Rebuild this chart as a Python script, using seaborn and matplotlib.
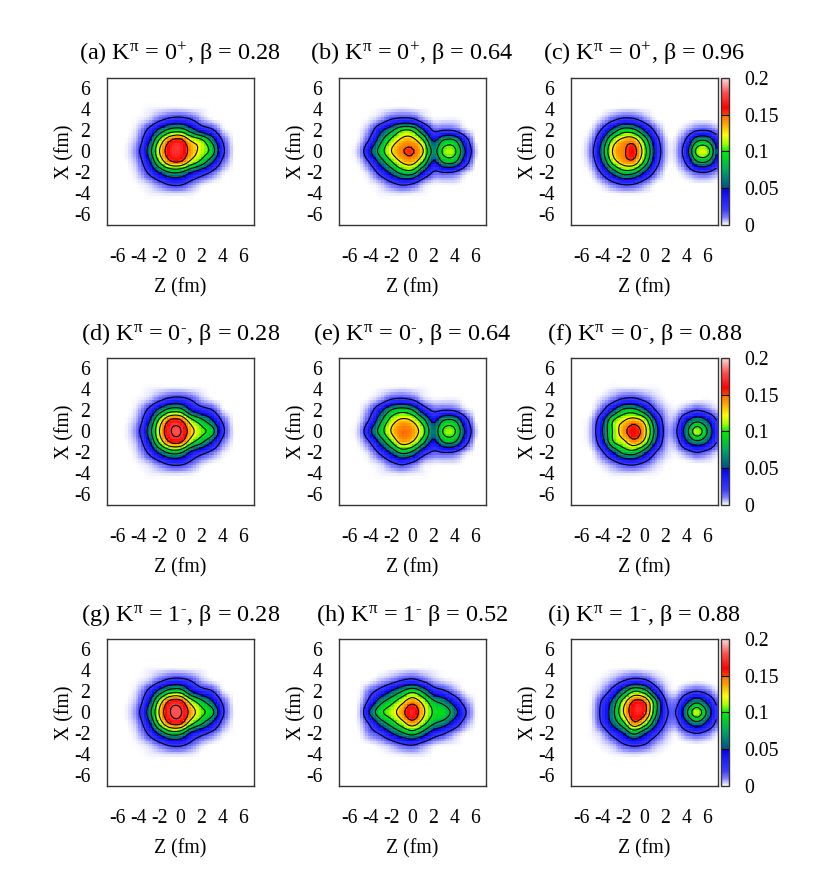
import numpy as np
import pandas as pd
import seaborn as sns
import matplotlib
matplotlib.use('Agg')
from matplotlib import pyplot as plt
from matplotlib.colors import LinearSegmentedColormap

# density, in units of 1e-3 fm^-3
# rows are X = 4 ... -4, columns are Z = -6 ... 7
z_grid = [-6, -5, -4, -3, -2, -1, 0, 1, 2, 3, 4, 5, 6, 7]
x_grid = [4, 3, 2, 1, 0, -1, -2, -3, -4]

panel_a = [
    [0, 0, 0, 1, 2, 3, 3, 2, 1, 0, 0, 0, 0, 0],
    [0, 0, 1, 5, 16, 27, 30, 22, 8, 2, 0, 0, 0, 0],
    [0, 0, 5, 26, 58, 85, 90, 65, 38, 25, 4, 0, 0, 0],
    [0, 1, 10, 46, 105, 150, 160, 125, 108, 70, 20, 1, 0, 0],
    [0, 2, 16, 60, 125, 165, 170, 140, 115, 90, 28, 2, 0, 0],
    [0, 1, 10, 44, 102, 145, 150, 118, 92, 55, 16, 1, 0, 0],
    [0, 0, 5, 24, 52, 75, 75, 52, 34, 17, 3, 0, 0, 0],
    [0, 0, 1, 5, 15, 27, 28, 15, 5, 1, 0, 0, 0, 0],
    [0, 0, 0, 1, 2, 3, 3, 2, 0, 0, 0, 0, 0, 0],
]
panel_b = [
    [0, 0, 0, 1, 2, 3, 2, 1, 0, 0, 0, 0, 0, 0],
    [0, 0, 2, 9, 22, 28, 26, 10, 2, 2, 2, 0, 0, 0],
    [0, 1, 12, 44, 70, 100, 98, 55, 18, 20, 18, 5, 0, 0],
    [0, 3, 26, 70, 108, 132, 135, 105, 48, 80, 80, 35, 2, 0],
    [0, 8, 48, 88, 125, 148, 152, 128, 68, 106, 106, 52, 6, 0],
    [0, 3, 24, 62, 98, 128, 135, 100, 46, 80, 80, 35, 2, 0],
    [0, 0, 7, 30, 58, 85, 88, 48, 18, 20, 18, 5, 0, 0],
    [0, 0, 1, 6, 18, 28, 24, 8, 2, 2, 2, 0, 0, 0],
    [0, 0, 0, 1, 2, 3, 2, 1, 0, 0, 0, 0, 0, 0],
]
panel_c = [
    [0, 0, 0, 1, 2, 2, 1, 0, 0, 0, 0, 0, 0, 0],
    [0, 0, 5, 17, 27, 25, 12, 2, 0, 0, 0, 1, 1, 0],
    [0, 3, 25, 60, 88, 83, 50, 17, 1, 0, 6, 18, 19, 8],
    [0, 10, 52, 110, 136, 140, 95, 37, 5, 3, 24, 72, 74, 32],
    [0, 15, 65, 128, 146, 158, 112, 46, 7, 5, 36, 108, 112, 45],
    [0, 10, 52, 110, 138, 142, 95, 37, 5, 3, 24, 72, 74, 32],
    [0, 3, 25, 60, 88, 83, 50, 17, 1, 0, 6, 18, 19, 8],
    [0, 0, 5, 17, 27, 25, 12, 2, 0, 0, 0, 1, 1, 0],
    [0, 0, 0, 1, 2, 2, 1, 0, 0, 0, 0, 0, 0, 0],
]
panel_d = [
    [0, 0, 0, 1, 2, 3, 3, 2, 1, 0, 0, 0, 0, 0],
    [0, 0, 1, 5, 16, 28, 30, 20, 7, 2, 0, 0, 0, 0],
    [0, 0, 5, 26, 60, 88, 88, 50, 32, 22, 3, 0, 0, 0],
    [0, 1, 10, 46, 108, 155, 156, 112, 85, 55, 18, 1, 0, 0],
    [0, 2, 16, 60, 125, 172, 177, 135, 108, 88, 28, 2, 0, 0],
    [0, 1, 10, 45, 106, 152, 155, 110, 82, 50, 14, 1, 0, 0],
    [0, 0, 5, 24, 56, 82, 80, 46, 28, 15, 3, 0, 0, 0],
    [0, 0, 1, 5, 15, 27, 28, 16, 5, 1, 0, 0, 0, 0],
    [0, 0, 0, 1, 2, 3, 3, 2, 0, 0, 0, 0, 0, 0],
]
panel_e = [
    [0, 0, 0, 1, 2, 3, 2, 1, 0, 0, 0, 0, 0, 0],
    [0, 0, 2, 9, 22, 26, 20, 6, 2, 2, 2, 0, 0, 0],
    [0, 1, 13, 44, 78, 90, 78, 38, 17, 20, 18, 5, 0, 0],
    [0, 3, 26, 72, 112, 132, 124, 88, 45, 78, 78, 33, 2, 0],
    [0, 7, 47, 88, 127, 149, 142, 110, 60, 104, 104, 50, 6, 0],
    [0, 3, 22, 60, 100, 136, 125, 85, 43, 78, 78, 33, 2, 0],
    [0, 0, 6, 27, 55, 82, 70, 33, 17, 20, 18, 5, 0, 0],
    [0, 0, 1, 5, 17, 27, 18, 5, 2, 2, 2, 0, 0, 0],
    [0, 0, 0, 1, 2, 3, 2, 1, 0, 0, 0, 0, 0, 0],
]
panel_f = [
    [0, 0, 0, 2, 3, 3, 2, 1, 0, 0, 0, 0, 0, 0],
    [0, 0, 4, 13, 25, 27, 17, 6, 1, 0, 0, 1, 1, 0],
    [0, 1, 17, 50, 82, 85, 60, 22, 5, 2, 11, 20, 13, 3],
    [0, 6, 42, 100, 124, 138, 118, 55, 10, 10, 46, 70, 52, 17],
    [0, 8, 50, 102, 140, 162, 135, 70, 13, 17, 64, 115, 75, 22],
    [0, 6, 40, 98, 118, 142, 118, 55, 10, 10, 46, 70, 52, 17],
    [0, 1, 17, 50, 82, 88, 60, 22, 5, 2, 11, 20, 13, 3],
    [0, 0, 4, 13, 25, 28, 18, 6, 1, 0, 0, 1, 1, 0],
    [0, 0, 0, 2, 3, 3, 2, 1, 0, 0, 0, 0, 0, 0],
]
panel_g = [
    [0, 0, 0, 1, 2, 3, 3, 2, 1, 0, 0, 0, 0, 0],
    [0, 0, 1, 5, 16, 28, 30, 20, 7, 2, 0, 0, 0, 0],
    [0, 0, 5, 26, 60, 88, 90, 52, 32, 22, 3, 0, 0, 0],
    [0, 1, 10, 46, 110, 158, 160, 116, 85, 55, 18, 1, 0, 0],
    [0, 2, 16, 62, 128, 174, 178, 140, 108, 85, 26, 2, 0, 0],
    [0, 1, 10, 45, 108, 154, 158, 112, 82, 50, 14, 1, 0, 0],
    [0, 0, 5, 24, 56, 84, 82, 46, 28, 15, 3, 0, 0, 0],
    [0, 0, 1, 5, 15, 27, 28, 16, 5, 1, 0, 0, 0, 0],
    [0, 0, 0, 1, 2, 3, 3, 2, 0, 0, 0, 0, 0, 0],
]
panel_h = [
    [0, 0, 0, 0, 1, 2, 3, 2, 1, 0, 0, 0, 0, 0],
    [0, 0, 1, 6, 12, 22, 28, 18, 7, 3, 1, 0, 0, 0],
    [0, 1, 14, 30, 52, 75, 95, 72, 35, 24, 10, 1, 0, 0],
    [0, 3, 30, 68, 92, 118, 142, 118, 82, 65, 38, 12, 1, 0],
    [0, 6, 55, 95, 113, 140, 170, 132, 98, 92, 62, 24, 2, 0],
    [0, 3, 26, 62, 88, 115, 140, 112, 80, 65, 38, 12, 1, 0],
    [0, 1, 12, 24, 48, 70, 85, 65, 35, 22, 8, 1, 0, 0],
    [0, 0, 1, 4, 10, 20, 25, 14, 5, 2, 1, 0, 0, 0],
    [0, 0, 0, 0, 1, 2, 3, 2, 0, 0, 0, 0, 0, 0],
]
panel_i = [
    [0, 0, 0, 1, 2, 3, 2, 1, 0, 0, 0, 0, 0, 0],
    [0, 0, 2, 8, 20, 30, 26, 10, 2, 0, 0, 1, 0, 0],
    [0, 1, 8, 30, 65, 100, 88, 40, 8, 2, 13, 20, 13, 2],
    [0, 2, 24, 58, 112, 155, 150, 88, 22, 13, 44, 70, 44, 13],
    [0, 3, 28, 68, 125, 165, 158, 88, 27, 20, 70, 116, 70, 20],
    [0, 2, 24, 58, 95, 145, 120, 62, 20, 13, 44, 70, 44, 13],
    [0, 1, 7, 28, 50, 80, 55, 28, 8, 2, 13, 20, 13, 2],
    [0, 0, 2, 7, 20, 28, 22, 8, 2, 0, 0, 1, 0, 0],
    [0, 0, 0, 1, 2, 3, 2, 1, 0, 0, 0, 0, 0, 0],
]

panels = [panel_a, panel_b, panel_c, panel_d, panel_e, panel_f, panel_g, panel_h, panel_i]
titles = [
    r'(a) K$^{\pi}$ = 0$^{+}$, β = 0.28', r'(b) K$^{\pi}$ = 0$^{+}$, β = 0.64', r'(c) K$^{\pi}$ = 0$^{+}$, β = 0.96',
    r'(d) K$^{\pi}$ = 0$^{\text{-}}$, β = 0.28', r'(e) K$^{\pi}$ = 0$^{\text{-}}$, β = 0.64',
    r'(f) K$^{\pi}$ = 0$^{\text{-}}$, β = 0.88', r'(g) K$^{\pi}$ = 1$^{\text{-}}$, β = 0.28',
    r'(h) K$^{\pi}$ = 1$^{\text{-}}$ β = 0.52', r'(i) K$^{\pi}$ = 1$^{\text{-}}$, β = 0.88',
]
levels = [0.02, 0.05, 0.075, 0.1, 0.125, 0.15, 0.175]
axis_ticks = [-6, -4, -2, 0, 2, 4, 6]
cbar_ticks = [0, 0.05, 0.1, 0.15, 0.2]
cbar_labels = ['0', '0.05', '0.1', '0.15', '0.2']

palette = [
    (0.0, '#ffffff'), (0.004, '#c8c8ff'), (0.01, '#8080ff'), (0.02, '#3c3cff'), (0.04, '#1414ff'),
    (0.0499, '#0000e6'), (0.0501, '#00508c'), (0.075, '#00a860'), (0.1, '#00f000'), (0.11, '#a0ff00'),
    (0.122, '#ffff00'), (0.138, '#ffa000'), (0.1499, '#ff7000'), (0.1501, '#ff4000'),
    (0.16, '#ff0000'), (0.18, '#ff5050'), (0.2, '#ffdcdc'),
]

sns.set_theme(style='white')
plt.rcParams['font.family'] = ['Liberation Serif', 'DejaVu Sans']
plt.rcParams['mathtext.fontset'] = 'custom'
plt.rcParams['mathtext.rm'] = 'Liberation Serif'
plt.rcParams['mathtext.it'] = 'Liberation Serif'
plt.rcParams['mathtext.bf'] = 'Liberation Serif'

cmap = LinearSegmentedColormap.from_list('density', [(v / 0.2, c) for v, c in palette], N=1024)

W, H = 830, 892
lefts = [107, 339, 571]
tops = [78, 358, 639]
SIZE = 146.7
CELL = 0.25
N = int(14 / CELL)


def cubic_weights(src, dst):
    # Catmull-Rom weights, only to draw the coarse grid at the plot's cell size
    w = np.zeros((len(dst), len(src)))
    step = src[1] - src[0]
    for i, d in enumerate(dst):
        k = int(np.floor((d - src[0]) / step))
        t = (d - src[k]) / step
        coef = [-0.5 * t + t ** 2 - 0.5 * t ** 3, 1 - 2.5 * t ** 2 + 1.5 * t ** 3,
                0.5 * t + 2 * t ** 2 - 1.5 * t ** 3, -0.5 * t ** 2 + 0.5 * t ** 3]
        for j, c in zip(range(k - 1, k + 3), coef):
            if 0 <= j < len(src):
                w[i, j] = c
    return w


def cell_field(panel):
    centers = -7 + CELL * (np.arange(N) + 0.5)
    z_src = np.array([-8.0, -7.0] + z_grid + [8.0, 9.0])
    x_src = np.arange(-8.0, 9.0)
    coarse = pd.DataFrame(panel, index=x_grid, columns=z_grid) \
        .reindex(index=x_src, columns=z_src, fill_value=0).to_numpy(dtype=float)
    fine = cubic_weights(x_src, centers[::-1]) @ coarse @ cubic_weights(z_src, centers).T
    return pd.DataFrame(np.clip(fine, 0, None) / 1000.0, index=centers[::-1], columns=centers)


def to_cell(v):
    return (np.asarray(v) + 7) / CELL


fig = plt.figure(figsize=(W / 100, H / 100), dpi=100)

for i, panel in enumerate(panels):
    col, row = i % 3, i // 3
    ax = fig.add_axes([lefts[col] / W, 1 - (tops[row] + SIZE) / H, SIZE / W, SIZE / H])
    field = cell_field(panel)
    cax = None
    if col == 2:
        cax = fig.add_axes([721 / W, 1 - (tops[row] + SIZE) / H, 7.5 / W, SIZE / H])
    sns.heatmap(field, ax=ax, cmap=cmap, vmin=0, vmax=0.2, cbar=col == 2, cbar_ax=cax,
                xticklabels=False, yticklabels=False, rasterized=True)
    ax.contour(np.arange(N) + 0.5, np.arange(N) + 0.5, field.to_numpy(), levels=levels,
               colors='black', linewidths=0.8)

    ax.set_xticks(to_cell(axis_ticks))
    ax.set_xticklabels([str(t) for t in axis_ticks], fontsize=14.2)
    ax.set_yticks(N - to_cell(axis_ticks))
    ax.set_yticklabels([str(t) for t in axis_ticks], fontsize=14.2, rotation=0)
    ax.tick_params(axis='both', direction='in', length=3.5, width=0.8, color='#222222',
                   top=True, right=True, labelcolor='black')
    ax.tick_params(axis='x', pad=16.5)
    ax.tick_params(axis='y', pad=12)
    ax.set_xlabel('Z (fm)', fontsize=14.2, labelpad=8, color='black')
    ax.set_ylabel('X (fm)', fontsize=14.2, color='black')
    ax.yaxis.set_label_coords(-0.222, 0.5)
    ax.set_title(titles[i], fontsize=17.5, pad=13, color='black')
    for s in ax.spines.values():
        s.set_visible(True)
        s.set_linewidth(1.0)
        s.set_color('#333333')

    if col == 2:
        cbar = ax.collections[0].colorbar
        cbar.set_ticks(cbar_ticks)
        cbar.set_ticklabels(cbar_labels)
        cbar.ax.tick_params(length=0, labelsize=14.2, pad=11.5, labelcolor='black')
        cbar.outline.set_visible(True)
        cbar.outline.set_linewidth(1.0)
        cbar.outline.set_edgecolor('#333333')
        for v in cbar_ticks[1:4]:
            cbar.ax.axhline(v, color='black', lw=0.8)

plt.savefig('out.png', dpi=100)
